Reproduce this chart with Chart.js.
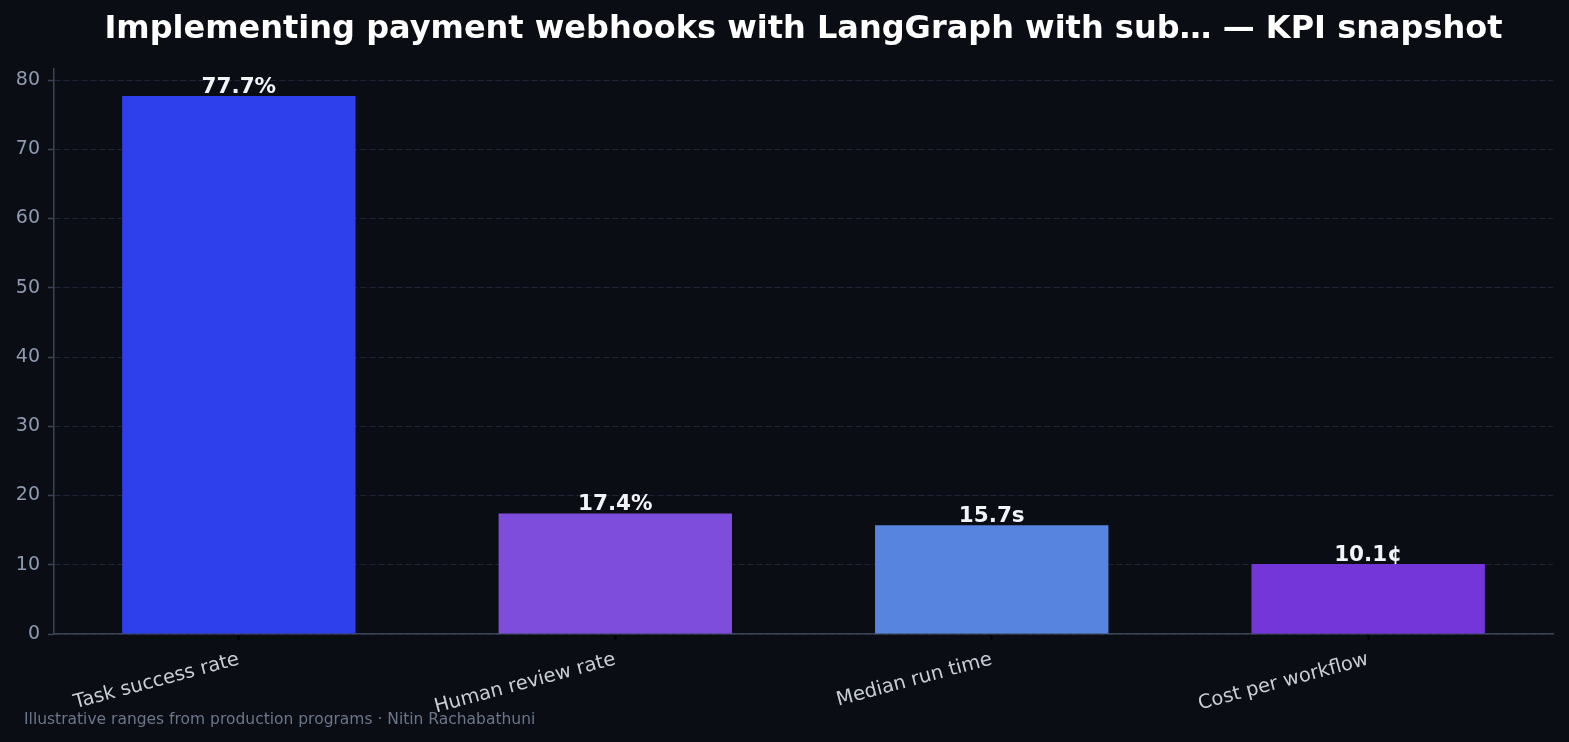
<!DOCTYPE html>
<html><head><meta charset="utf-8">
<script src="https://cdn.jsdelivr.net/npm/chart.js@4"></script>
<style>html,body{margin:0;padding:0;background:#0a0d14;}#wrap{width:1569px;height:742px;}</style>
</head><body><div id="wrap"><canvas id="c" width="1569" height="742"></canvas></div>
<script>
const categories = ["Task success rate", "Human review rate", "Median run time", "Cost per workflow"];
const values = [77.7, 17.4, 15.7, 10.1];
const valueLabels = ["77.7%", "17.4%", "15.7s", "10.1¢"];
const barColors = ["#2e3fec", "#7f4ddb", "#5684df", "#7435d9"];
const yTicks = [0, 10, 20, 30, 40, 50, 60, 70, 80];
const xTicks = [0, 1, 2, 3];
const titleText = "Implementing payment webhooks with LangGraph with sub… — KPI snapshot";
const footerText = "Illustrative ranges from production programs · Nitin Rachabathuni";

const FONT = "'DejaVu Sans', sans-serif";

const labelPlugin = {
  id: 'valueLabels',
  afterDatasetsDraw(chart) {
    const ctx = chart.ctx;
    const meta = chart.getDatasetMeta(0);
    ctx.save();
    ctx.font = "bold 21.5px " + FONT;
    ctx.fillStyle = "#f2f4f8";
    ctx.textAlign = "center";
    ctx.textBaseline = "alphabetic";
    meta.data.forEach((bar, i) => {
      ctx.fillText(valueLabels[i], bar.x, bar.y - 3.5);
    });
    ctx.restore();
  },
  afterDraw(chart) {
    const ctx = chart.ctx;
    const area = chart.chartArea;
    ctx.save();
    ctx.font = "bold 32px " + FONT;
    ctx.fillStyle = "#ffffff";
    ctx.textAlign = "center";
    ctx.textBaseline = "middle";
    ctx.fillText(titleText, (area.left + area.right) / 2, 29.5);
    ctx.font = "15.5px " + FONT;
    ctx.fillStyle = "#6b7689";
    ctx.textAlign = "left";
    ctx.textBaseline = "middle";
    ctx.fillText(footerText, 24, 720);
    ctx.restore();
  }
};

const bgPlugin = {
  id: 'bg',
  beforeDraw(chart) {
    const ctx = chart.ctx;
    ctx.save();
    ctx.fillStyle = "#0a0d14";
    ctx.fillRect(0, 0, chart.width, chart.height);
    ctx.restore();
  }
};

new Chart(document.getElementById('c'), {
  type: 'bar',
  data: {
    datasets: [{
      data: values.map((v, i) => ({ x: i, y: v })),
      backgroundColor: barColors,
      borderWidth: 0,
      barPercentage: 0.62,
      categoryPercentage: 1.0
    }]
  },
  options: {
    responsive: false,
    animation: false,
    devicePixelRatio: 1,
    layout: { padding: { left: 0, right: 16, top: 69, bottom: 0 } },
    plugins: {
      legend: { display: false },
      tooltip: { enabled: false },
      title: { display: false }
    },
    scales: {
      x: {
        type: 'linear',
        min: -0.491,
        max: 3.491,
        offset: false,
        grid: { display: true, offset: false, drawOnChartArea: false, drawTicks: true, tickLength: 6, tickColor: "#000000", tickWidth: 2, color: "#000000" },
        border: { display: true, color: "#3a4556", width: 1.5 },
        ticks: {
          color: "#c8cdd6",
          font: { family: FONT, size: 19.5 },
          minRotation: 15, maxRotation: 15,
          autoSkip: false,
          padding: 8,
          callback: (v) => categories[v] !== undefined ? categories[v] : ''
        },
        afterBuildTicks(scale) { scale.ticks = xTicks.map(v => ({ value: v })); },
        afterFit(scale) { scale.height = 108; }
      },
      y: {
        min: 0,
        max: 81.6,
        z: 1,
        grid: {
          color: "rgba(45,55,78,0.6)",
          lineWidth: 1,
          drawTicks: true,
          tickLength: 6,
          tickColor: "#3a4556",
          tickWidth: 1.5
        },
        border: { display: true, color: "#3a4556", width: 1.5, dash: [6, 3] },
        ticks: {
          stepSize: 10,
          includeBounds: false,
          color: "#8e9bb0",
          font: { family: FONT, size: 19 },
          padding: 8
        },
        afterBuildTicks(scale) { scale.ticks = yTicks.map(v => ({ value: v })); },
        afterFit(scale) { scale.width = 54; }
      }
    }
  },
  plugins: [bgPlugin, labelPlugin]
});
</script>
</body></html>
